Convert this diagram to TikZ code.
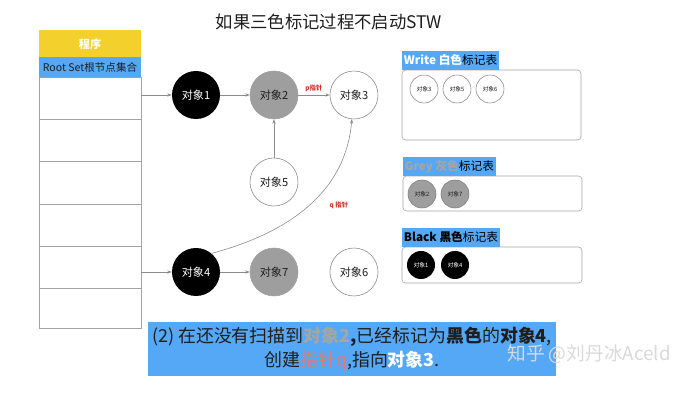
\documentclass[tikz,border=0pt]{standalone}
\usepackage{fontspec}
\setmainfont{Noto Sans CJK SC}
\usetikzlibrary{arrows.meta,positioning}
\definecolor{ink}{HTML}{1E1E1E}
\definecolor{rootblue}{HTML}{55A8F5}
\definecolor{progyel}{HTML}{F4D02C}
\definecolor{greyobj}{HTML}{9E9E9E}
\definecolor{edge}{HTML}{8C8C8C}
\definecolor{ptr}{HTML}{D0342C}
\definecolor{ptrlt}{HTML}{E47A7A}
\definecolor{greytxt}{HTML}{A5A5A5}
\newcommand{\fs}[1]{\fontsize{#1}{#1}\selectfont}

\tikzset{
  obj/.style={circle,minimum size=1.44cm,inner sep=0pt,line width=0.5pt,font=\fs{9.5}},
  whiteobj/.style={obj,draw=edge,fill=white,text=ink},
  greyobj/.style={obj,draw=greyobj,fill=greyobj,text=ink},
  blackobj/.style={obj,fill=black,text=white},
  mini/.style={circle,minimum size=0.84cm,inner sep=0pt,line width=0.5pt,font=\fs{5}},
  link/.style={draw=edge,line width=0.5pt,-{Stealth[length=1.3mm,width=1mm]}},
  tag/.style={fill=rootblue,inner sep=1.5pt,minimum height=0.57cm,anchor=south west,font=\fs{10}},
  panel/.style={draw=edge!80,rounded corners=3pt,line width=0.5pt},
  ptrlabel/.style={text=ptr,font=\bfseries\fs{5.5}}
}

\begin{document}
\begin{tikzpicture}[x=0.03cm,y=-0.03cm]
\useasboundingbox (0,0) rectangle (691,400);

\node[text=ink,font=\fs{14.8}] (title) at (329,22) {如果三色标记过程不启动STW};

% ---------------- L1: root set table ----------------------------------------
\fill[progyel] (39,30) rectangle (141,57);
\node[text=white,font=\bfseries\fs{9.5}] (prog) at (90,44) {程序};
\fill[rootblue] (39,57) rectangle (141,77);
\node[text=ink,font=\fs{9}] (root) at (90,67) {Root Set根节点集合};
\draw[edge!80,line width=0.5pt] (39,77) rectangle (141,328);
\foreach \y in {119,161,204,246,288}
  \draw[edge!80,line width=0.5pt] (39,\y) -- (141,\y);
\coordinate (slot1) at (141,95);
\coordinate (slot5) at (141,272);

% ---------------- L1: object graph ------------------------------------------
\node[blackobj] (o1) at (196,95) {对象1};
\node[greyobj]  (o2) at (274,95) {对象2};
\node[whiteobj] (o3) at (354,95) {对象3};
\node[whiteobj] (o5) at (274,182) {对象5};
\node[blackobj] (o4) at (196,272) {对象4};
\node[greyobj]  (o7) at (274,272) {对象7};
\node[whiteobj] (o6) at (354,272) {对象6};

\draw[link] (slot1) -- (o1);
\draw[link] (o1) -- (o2);
\draw[link] (o2) -- node[ptrlabel,above=-1pt] (ptag) {p指针} (o3);
\draw[link] (o5) -- (o2);
\draw[link] (slot5) -- (o4);
\draw[link] (o4) -- (o7);
\draw[link] (o4.50) to[out=15,in=-95] (o3.-95);
\node[ptrlabel] (qtag) at (339,205) {q 指针};

% ---------------- L2: colour tables -----------------------------------------
\draw[panel] (402,70) rectangle (581,140);
\node[tag] (wtag) at (402,70) {\textcolor{white}{\bfseries Write 白色}标记表};
\foreach \x/\t in {424/3,457/5,490/6}
  \node[mini,draw=edge,fill=white,text=ink] (w\t) at (\x,89) {对象\t};

\draw[panel] (403,176) rectangle (582,211);
\node[tag] (gtag) at (403,176) {\textcolor{greytxt}{\bfseries Grey 灰色}标记表};
\foreach \x/\t in {422/2,455/7}
  \node[mini,draw=greyobj!80!black,fill=greyobj,text=ink] (g\t) at (\x,194) {对象\t};

\draw[panel] (402,247) rectangle (582,283);
\node[tag] (btag) at (402,247) {\textcolor{black}{\bfseries Black 黑色}标记表};
\foreach \x/\t in {421/1,455/4}
  \node[mini,fill=black,text=white] (b\t) at (\x,265) {对象\t};

% ---------------- L3: caption -----------------------------------------------
\node[fill=rootblue,text=ink,minimum width=12.24cm,minimum height=1.62cm,
      align=center,font=\fs{15.3},inner sep=0pt] (note) at (352,349)
  {(2) 在还没有扫描到\textcolor{greytxt}{\bfseries 对象2}{\bfseries ,}已经标记为{\bfseries 黑色}的{\bfseries 对象4},\\[3pt]
   创建\textcolor{ptrlt}{指针q},指向\textcolor{white}{\bfseries 对象3}.};
\node[text=gray!30,font=\fs{16}] (mark) at (589,354) {知乎 @刘丹冰Aceld};

\end{tikzpicture}
\end{document}
